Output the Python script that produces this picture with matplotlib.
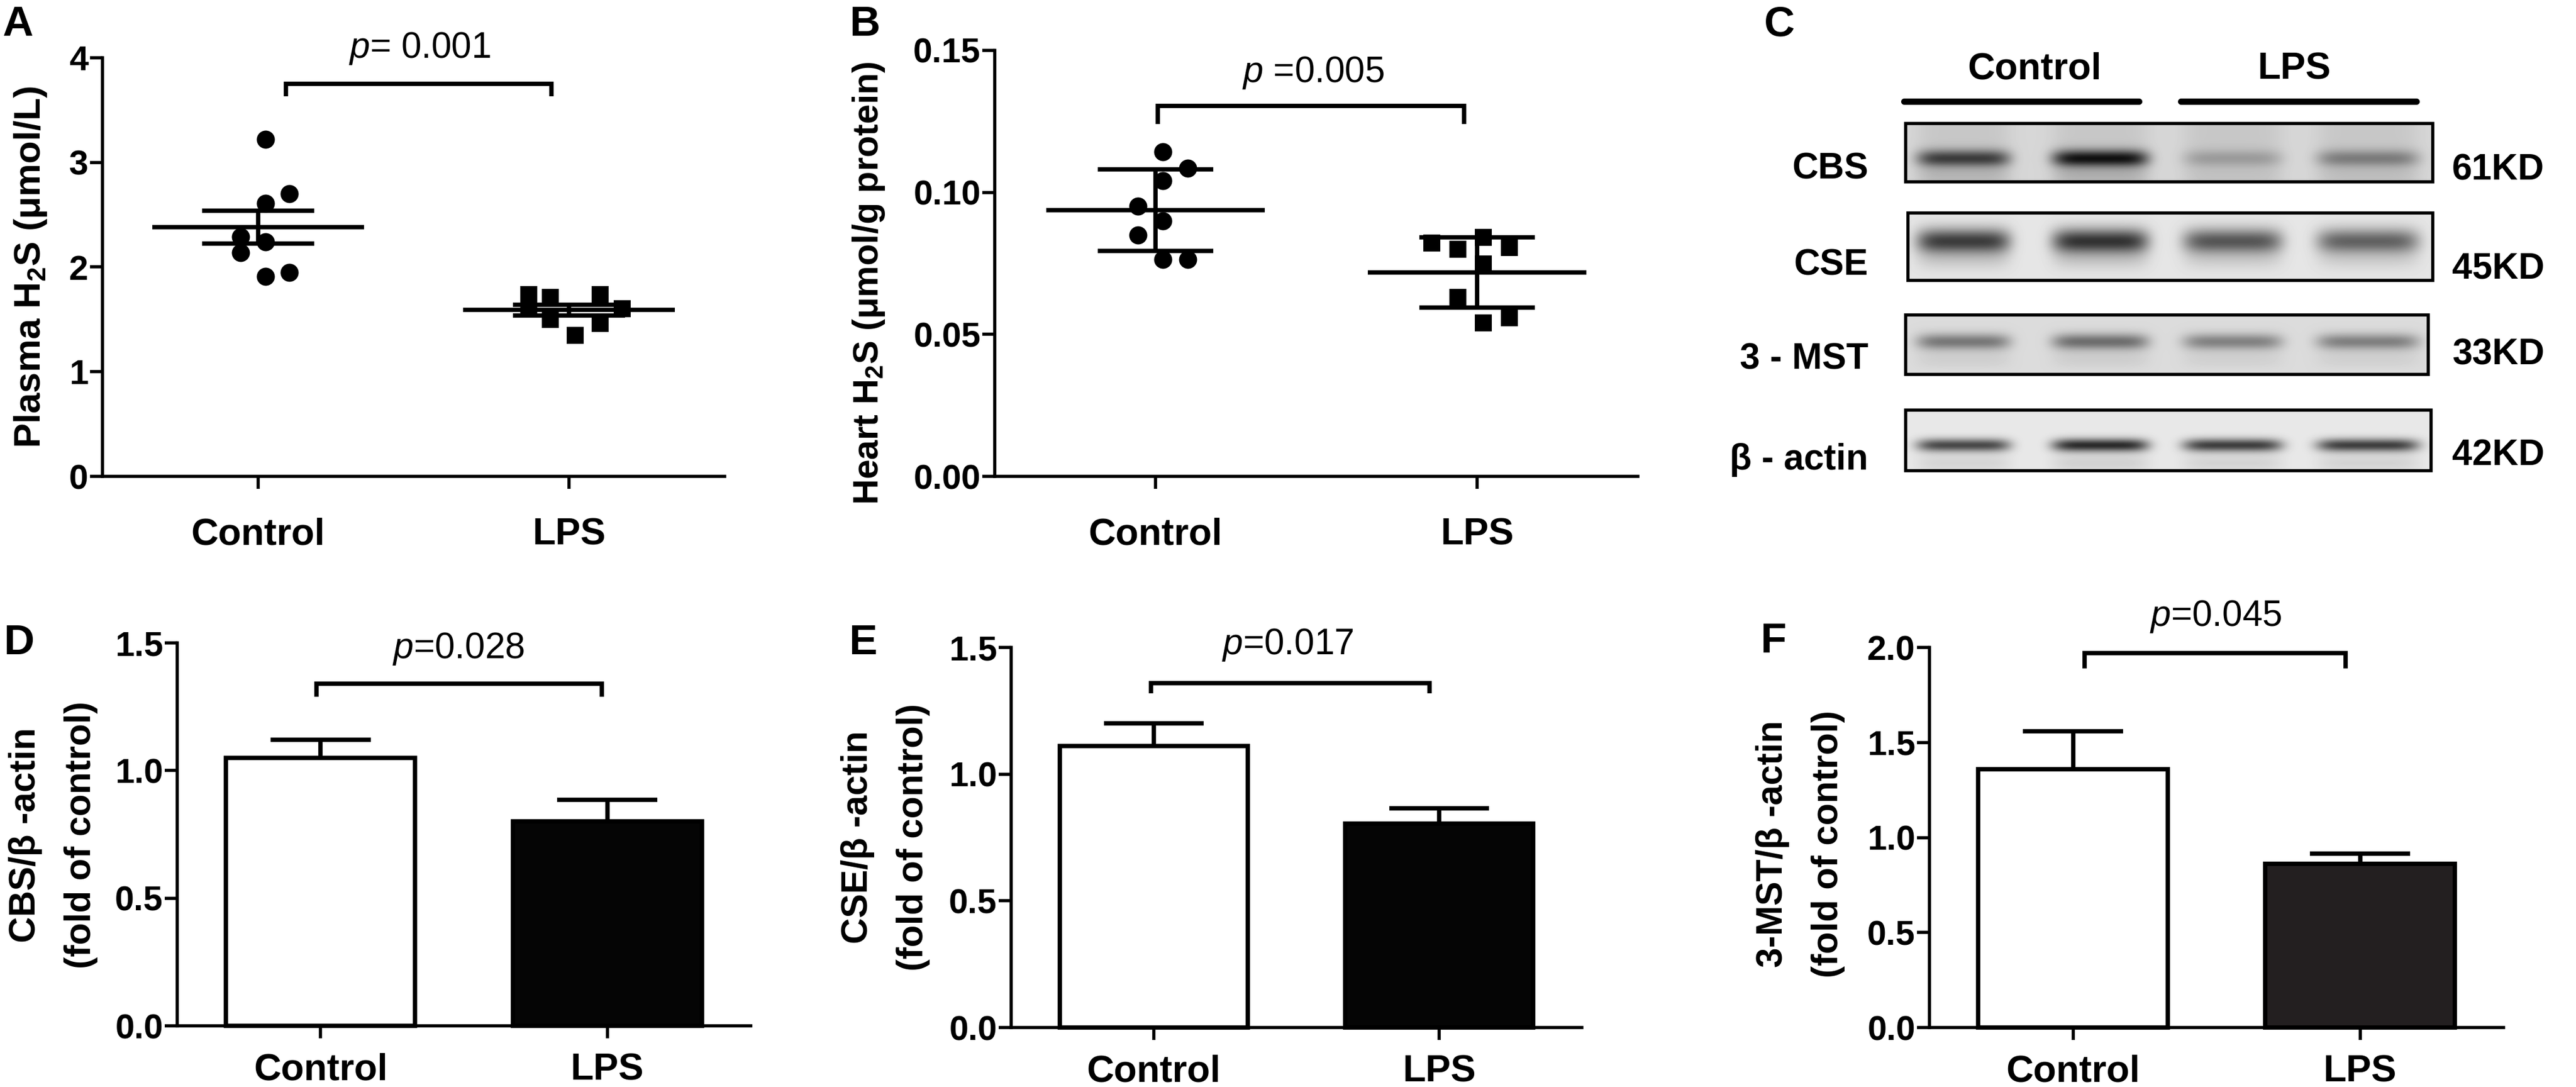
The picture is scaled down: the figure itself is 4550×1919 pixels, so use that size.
import numpy as np
import matplotlib
matplotlib.use("Agg")
import matplotlib.pyplot as plt
from matplotlib.patches import Rectangle

plt.rcParams['font.family'] = ['Liberation Sans', 'DejaVu Sans']
plt.rcParams['font.weight'] = 'bold'
plt.rcParams['mathtext.fontset'] = 'custom'
plt.rcParams['mathtext.rm'] = 'Liberation Sans:style=normal:weight=normal'
plt.rcParams['mathtext.it'] = 'Liberation Sans:style=italic:weight=normal'
plt.rcParams['mathtext.bf'] = 'Liberation Sans:style=normal:weight=bold'

W, H = 4550, 1919

groups = ["Control", "LPS"]

# A: plasma H2S (umol/L), one value per animal, mean +/- SEM
plasma_control = [3.22, 2.70, 2.61, 2.29, 2.24, 2.14, 1.95, 1.91]
plasma_lps = [1.74, 1.62, 1.71, 1.50, 1.35, 1.74, 1.46, 1.60]

# B: heart H2S (umol/g protein), mean +/- SD
heart_control = [0.1143, 0.1085, 0.1041, 0.0952, 0.0900, 0.0850, 0.0764, 0.0764]
heart_lps = [0.0822, 0.0800, 0.0842, 0.0748, 0.0806, 0.0630, 0.0540, 0.0558]

# D-F: densitometry, fold of control, mean and SEM
cbs_mean = [1.05, 0.80]
cbs_sem = [0.07, 0.085]
cse_mean = [1.11, 0.805]
cse_sem = [0.09, 0.06]
mst_mean = [1.36, 0.86]
mst_sem = [0.20, 0.055]

p_values = ["p= 0.001", "p =0.005", "p=0.028", "p=0.017", "p=0.045"]

# C: western blot, relative band darkness per lane (Control, Control, LPS, LPS)
blot_proteins = ["CBS", "CSE", "3 - MST", "\u03b2 - actin"]
blot_sizes = ["61KD", "45KD", "33KD", "42KD"]
band_darkness = [
    [0.70, 0.92, 0.22, 0.38],
    [0.85, 0.90, 0.72, 0.66],
    [0.50, 0.55, 0.45, 0.46],
    [0.80, 0.95, 0.85, 0.85],
]

# scatter jitter used by the plotting program (layout only)
plasma_control_dx = [0.025, 0.10, 0.025, -0.056, 0.025, -0.056, 0.10, 0.025]
plasma_lps_dx = [-0.13, -0.13, -0.06, -0.06, 0.02, 0.10, 0.10, 0.17]
heart_control_dx = [0.023, 0.10, 0.023, -0.055, 0.023, -0.055, 0.023, 0.10]
heart_lps_dx = [-0.14, -0.06, 0.02, 0.02, 0.10, -0.06, 0.02, 0.10]

fig = plt.figure(figsize=(W / 100, H / 100), dpi=100)
fig.patch.set_facecolor('white')

LW = 5.5


def px_axes(left, top, right, bottom):
    return fig.add_axes([left / W, 1 - bottom / H, (right - left) / W, (bottom - top) / H])


def style(ax, ylim, yticks, yticklabels, xpad):
    ax.set_xlim(-0.5, 1.5)
    ax.set_ylim(*ylim)
    for s in ['top', 'right']:
        ax.spines[s].set_visible(False)
    for s in ['left', 'bottom']:
        ax.spines[s].set_linewidth(4)
    ax.set_xticks([0, 1])
    ax.set_xticklabels(groups, fontsize=48, fontweight='bold')
    ax.set_yticks(yticks)
    ax.set_yticklabels(yticklabels, fontsize=44, fontweight='bold')
    ax.tick_params(axis='both', length=16, width=4, direction='out')
    ax.tick_params(axis='x', pad=xpad)
    ax.tick_params(axis='y', pad=2)
    ax.patch.set_visible(False)


def bracket(ax, x0, x1, y_top, y_drop, text, tx, ty, fs=46):
    ax.plot([x0, x0, x1, x1], [y_drop, y_top, y_top, y_drop], color='black',
            lw=LW, clip_on=False, solid_joinstyle='miter', solid_capstyle='butt')
    rest = text[1:]
    ax.text(tx, ty, r'$\mathit{p}$' + rest, ha='center', va='baseline',
            fontsize=fs, fontweight='normal', clip_on=False)


def scatter_panel(ax, series, offsets, markers, use_sem):
    for i, (vals, dx, m) in enumerate(zip(series, offsets, markers)):
        vals = np.asarray(vals)
        x = i + np.asarray(dx)
        ms = 23 if m == 'o' else 22
        ax.plot(x, vals, ls='none', marker=m, ms=ms, color='black',
                markeredgewidth=0, clip_on=False, zorder=3)
        mean = vals.mean()
        sd = vals.std(ddof=1)
        e = sd / np.sqrt(len(vals)) if use_sem else sd
        ax.hlines(mean, i - 0.34, i + 0.34, color='black', lw=LW, zorder=4)
        ax.hlines([mean - e, mean + e], i - 0.18, i + 0.18, color='black', lw=LW, zorder=4)
        ax.vlines(i, mean - e, mean + e, color='black', lw=LW, zorder=4)


def bar_panel(ax, means, sems, lps_color):
    x = np.arange(len(means))
    means = np.asarray(means)
    sems = np.asarray(sems)
    ax.vlines(x, means, means + sems, color='black', lw=LW, zorder=1)
    ax.hlines(means + sems, x - 0.175, x + 0.175, color='black', lw=LW, zorder=1)
    ax.bar(x, means, width=0.66, color=['white', lps_color], edgecolor='black',
           linewidth=LW, zorder=2, clip_on=False)


def ylabel_text(x, y, s, fs=47, ls=1.2):
    fig.text(x / W, 1 - y / H, s, rotation=90, ha='center', va='center',
             fontsize=fs, fontweight='bold', linespacing=ls)


def letter(x, y, s):
    fig.text(x / W, 1 - y / H, s, ha='left', va='baseline', fontsize=54, fontweight='bold')


TOP_PAD = 36
BOT_PAD = 18

# ---- A ----
axA = px_axes(181, 102, 1280, 841)
scatter_panel(axA, [plasma_control, plasma_lps], [plasma_control_dx, plasma_lps_dx], ['o', 's'], True)
style(axA, (0, 4), [0, 1, 2, 3, 4], ['0', '1', '2', '3', '4'], TOP_PAD)
bracket(axA, 0.09, 0.944, 3.75, 3.63, p_values[0], 0.52, 4.0)
ylabel_text(54, 471, r'Plasma H$_\mathbf{2}$S (μmol/L)', fs=47)
letter(4, 63, 'A')

# ---- B ----
axB = px_axes(1757, 89, 2893, 841)
scatter_panel(axB, [heart_control, heart_lps], [heart_control_dx, heart_lps_dx], ['o', 's'], False)
style(axB, (0, 0.15), [0, 0.05, 0.10, 0.15], ['0.00', '0.05', '0.10', '0.15'], TOP_PAD)
bracket(axB, 0.007, 0.96, 0.1305, 0.124, p_values[1], 0.49, 0.1388)
ylabel_text(1534, 500, r'Heart H$_\mathbf{2}$S (μmol/g protein)', fs=45)
letter(1501, 63, 'B')

# ---- D ----
axD = px_axes(313, 1135, 1326, 1811)
bar_panel(axD, cbs_mean, cbs_sem, '#050505')
style(axD, (0, 1.5), [0, 0.5, 1.0, 1.5], ['0.0', '0.5', '1.0', '1.5'], BOT_PAD)
bracket(axD, -0.014, 0.98, 1.34, 1.29, p_values[2], 0.48, 1.44)
ylabel_text(94, 1474, 'CBS/\u03b2 -actin\n(fold of control)', fs=46, ls=1.8)
letter(7, 1155, 'D')

# ---- E ----
axE = px_axes(1786, 1143, 2794, 1814)
bar_panel(axE, cse_mean, cse_sem, '#050505')
style(axE, (0, 1.5), [0, 0.5, 1.0, 1.5], ['0.0', '0.5', '1.0', '1.5'], BOT_PAD)
bracket(axE, -0.01, 0.967, 1.36, 1.32, p_values[3], 0.47, 1.474)
ylabel_text(1564, 1478, 'CSE/\u03b2 -actin\n(fold of control)', fs=46, ls=1.8)
letter(1500, 1155, 'E')

# ---- F ----
axF = px_axes(3408, 1143, 4422, 1814)
bar_panel(axF, mst_mean, mst_sem, '#231f20')
style(axF, (0, 2.0), [0, 0.5, 1.0, 1.5, 2.0], ['0.0', '0.5', '1.0', '1.5', '2.0'], BOT_PAD)
bracket(axF, 0.04, 0.95, 1.97, 1.89, p_values[4], 0.497, 2.113)
ylabel_text(3180, 1490, '3-MST/\u03b2 -actin\n(fold of control)', fs=46, ls=1.8)
letter(3110, 1152, 'F')

# ---- C: blot ----
axC = px_axes(2900, 0, 4550, 900)
axC.set_xlim(2900, 4550)
axC.set_ylim(900, 0)
axC.axis('off')

lane_x = [3468, 3710, 3944, 4183]
lane_w = [165, 170, 175, 180]
strips = [  # box x0, x1, y0, y1, band centre (fraction), band spread, background
    (3366, 4297, 218, 321, 0.60, 0.15, 0.84),
    (3370, 4297, 376, 495, 0.42, 0.19, 0.90),
    (3366, 4289, 556, 661, 0.45, 0.14, 0.86),
    (3366, 4294, 724, 831, 0.58, 0.11, 0.91),
]
row_y = [298, 468, 634, 812]
kd_y = [301, 474, 626, 804]

for k, (x0, x1, y0, y1, cy, sy, bg) in enumerate(strips):
    nx, ny = x1 - x0, y1 - y0
    xx = np.linspace(x0, x1, nx)[None, :]
    yy = np.linspace(0, 1, ny)[:, None]
    img = np.full((ny, nx), bg)
    for j, (cx, w) in enumerate(zip(lane_x, lane_w)):
        lane = np.exp(-((xx - cx) / (w / 2)) ** 6)
        img -= 0.06 * lane * (k == 0)
        band = np.exp(-((yy - cy) / sy) ** 2)
        tail = 0.12 * np.exp(-((yy - cy - 0.3) / 0.15) ** 2)
        img -= band_darkness[k][j] * 0.78 * lane * (band + tail)
    img = np.clip(img, 0, 1)
    axC.imshow(img, cmap='gray', vmin=0, vmax=1, extent=(x0, x1, y1, y0),
               aspect='auto', interpolation='bilinear', zorder=1)
    axC.add_patch(Rectangle((x0, y0), x1 - x0, y1 - y0, fill=False,
                            edgecolor='black', lw=4, zorder=2))
    axC.text(3300, row_y[k], blot_proteins[k], ha='right', va='center',
             fontsize=46, fontweight='bold')
    axC.text(4331, kd_y[k], blot_sizes[k], ha='left', va='center',
             fontsize=46, fontweight='bold')

axC.set_xlim(2900, 4550)
axC.set_ylim(900, 0)
axC.text(3594, 123, groups[0], ha='center', va='center', fontsize=48, fontweight='bold')
axC.text(4052, 123, groups[1], ha='center', va='center', fontsize=48, fontweight='bold')
axC.plot([3363, 3778], [179, 179], color='black', lw=8, solid_capstyle='round')
axC.plot([3852, 4268], [179, 179], color='black', lw=8, solid_capstyle='round')
letter(3116, 63, 'C')

fig.savefig('out.png', dpi=100, facecolor='white')
